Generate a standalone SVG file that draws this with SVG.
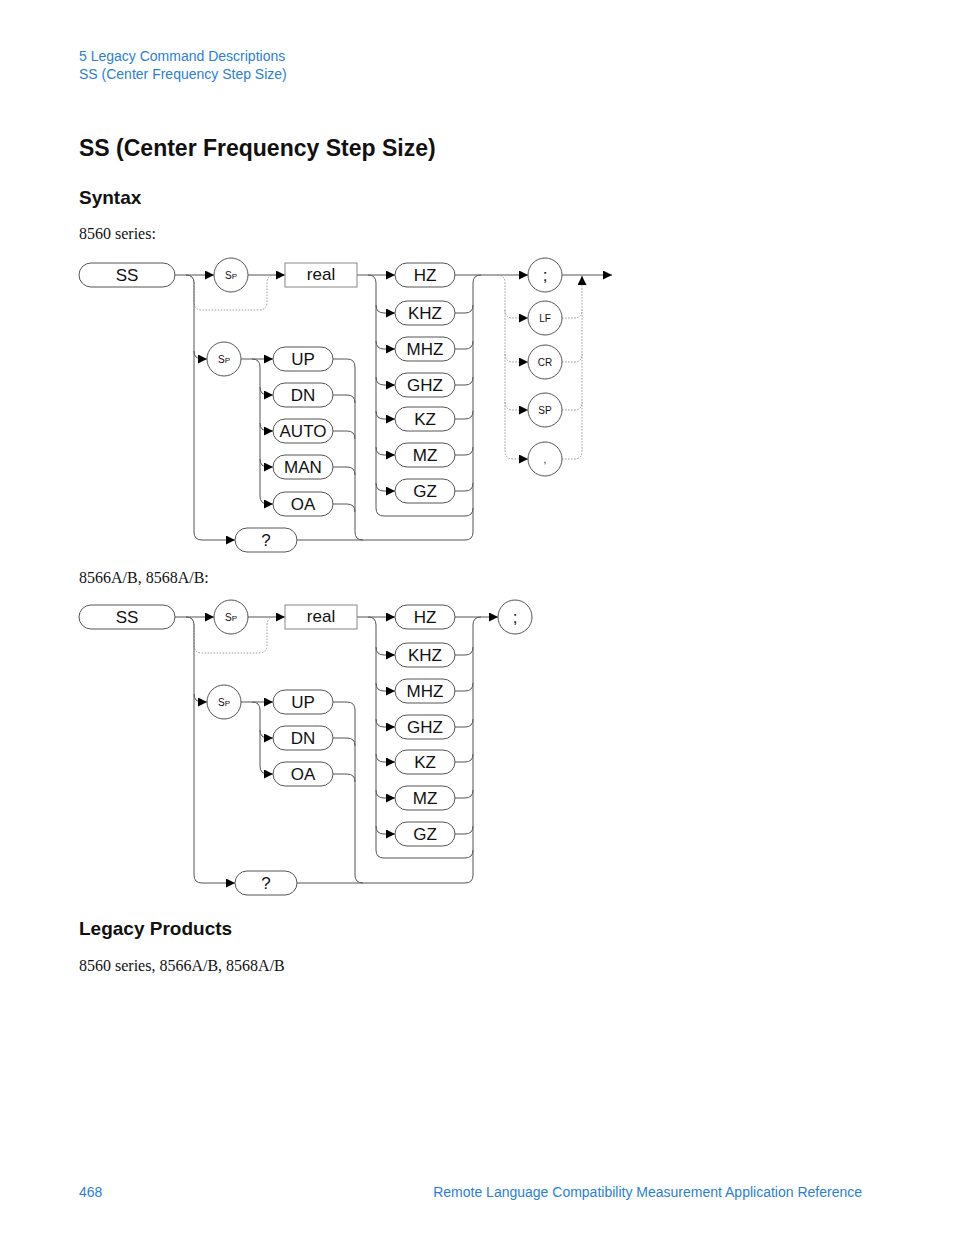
<svg xmlns="http://www.w3.org/2000/svg" width="954" height="1235" viewBox="0 0 954 1235">
<style>
.hd{font-family:"Liberation Sans Narrow","Liberation Sans",sans-serif;fill:#2a7fd4;font-size:14px}
.t{font-family:"Liberation Sans Narrow","Liberation Sans",sans-serif;font-weight:bold;fill:#111}
.b{font-family:"Liberation Serif",serif;font-size:16px;fill:#111}
.n{fill:#fff;stroke:#555;stroke-width:1}
.l{font-family:"Liberation Sans",Arial,sans-serif;font-size:17px;fill:#111;text-anchor:middle}
.s{font-family:"Liberation Sans",Arial,sans-serif;font-size:10px;fill:#111;text-anchor:middle}
.c path{fill:none;stroke:#555;stroke-width:1}
.c path.d{stroke:#999;stroke-dasharray:1.5 1.5}
</style>
<defs><marker id="a" viewBox="0 0 10 10" refX="10" refY="5" markerWidth="9" markerHeight="9" markerUnits="userSpaceOnUse" orient="auto"><path d="M0,0 L10,5 L0,10z" fill="#000"/></marker></defs>
<rect width="954" height="1235" fill="#fff"/>
<text class="hd" x="79" y="61">5  Legacy Command Descriptions</text>
<text class="hd" x="79" y="79">SS (Center Frequency Step Size)</text>
<text class="t" x="79" y="156" font-size="23">SS (Center Frequency Step Size)</text>
<text class="t" x="79" y="204" font-size="19">Syntax</text>
<text class="b" x="79" y="239">8560 series:</text>
<text class="b" x="79" y="583">8566A/B, 8568A/B:</text>
<text class="t" x="79" y="935" font-size="19">Legacy Products</text>
<text class="b" x="79" y="971">8560 series, 8566A/B, 8568A/B</text>
<text class="hd" x="79" y="1197">468</text>
<text class="hd" x="862" y="1197" text-anchor="end">Remote Language Compatibility Measurement Application Reference</text>

<g class="c" id="connectors">
<!-- diagram 1 -->
<path d="M175,275 H214" marker-end="url(#a)"/>
<path d="M248,275 H285" marker-end="url(#a)"/>
<path class="d" d="M186,275 Q194,275 194,283 V302 Q194,310 202,310 H259 Q267,310 267,302 V283 Q267,275 275,275"/>
<path d="M186,275 Q194,275 194,283 V532 Q194,540 202,540 H235" marker-end="url(#a)"/>
<path d="M194,351 Q194,359 202,359 H207" marker-end="url(#a)"/>
<path d="M241,359 H273" marker-end="url(#a)"/>
<path d="M252,359 Q260,359 260,367 V496 Q260,504 268,504 H273" marker-end="url(#a)"/>
<path d="M260,387 Q260,395 268,395 H273" marker-end="url(#a)"/>
<path d="M260,423 Q260,431 268,431 H273" marker-end="url(#a)"/>
<path d="M260,459 Q260,467 268,467 H273" marker-end="url(#a)"/>
<path d="M333,359 H347 Q355,359 355,367 V532 Q355,540 363,540 H465 Q473,540 473,532 V283 Q473,275 481,275 H528" marker-end="url(#a)"/>
<path d="M297,540 H363"/>
<path d="M333,395 H347 Q355,395 355,403"/>
<path d="M333,431 H347 Q355,431 355,439"/>
<path d="M333,467 H347 Q355,467 355,475"/>
<path d="M333,504 H347 Q355,504 355,512"/>
<path d="M357,275 H395" marker-end="url(#a)"/>
<path d="M368,275 Q376,275 376,283 V508 Q376,516 384,516 H465 Q473,516 473,508"/>
<path d="M376,305 Q376,313 384,313 H395" marker-end="url(#a)"/>
<path d="M376,341 Q376,349 384,349 H395" marker-end="url(#a)"/>
<path d="M376,377 Q376,385 384,385 H395" marker-end="url(#a)"/>
<path d="M376,411 Q376,419 384,419 H395" marker-end="url(#a)"/>
<path d="M376,447 Q376,455 384,455 H395" marker-end="url(#a)"/>
<path d="M376,483 Q376,491 384,491 H395" marker-end="url(#a)"/>
<path d="M455,275 H481"/>
<path d="M455,313 H465 Q473,313 473,305"/>
<path d="M455,349 H465 Q473,349 473,341"/>
<path d="M455,385 H465 Q473,385 473,377"/>
<path d="M455,419 H465 Q473,419 473,411"/>
<path d="M455,455 H465 Q473,455 473,447"/>
<path d="M455,491 H465 Q473,491 473,483"/>
<path class="d" d="M497,275 Q505,275 505,283 V451 Q505,459 513,459 H528" marker-end="url(#a)"/>
<path class="d" d="M505,310 Q505,318 513,318 H528" marker-end="url(#a)"/>
<path class="d" d="M505,354 Q505,362 513,362 H528" marker-end="url(#a)"/>
<path class="d" d="M505,402 Q505,410 513,410 H528" marker-end="url(#a)"/>
<path class="d" d="M562,459 H574 Q582,459 582,451 V277"/>
<path d="M582,285 V276" marker-end="url(#a)"/>
<path class="d" d="M562,318 H574 Q582,318 582,310"/>
<path class="d" d="M562,362 H574 Q582,362 582,354"/>
<path class="d" d="M562,410 H574 Q582,410 582,402"/>
<path d="M562,275 H612" marker-end="url(#a)"/>
<!-- diagram 2 -->
<path d="M175,617 H214" marker-end="url(#a)"/>
<path d="M248,617 H285" marker-end="url(#a)"/>
<path class="d" d="M186,617 Q194,617 194,625 V645 Q194,653 202,653 H259 Q267,653 267,645 V625 Q267,617 275,617"/>
<path d="M186,617 Q194,617 194,625 V875 Q194,883 202,883 H235" marker-end="url(#a)"/>
<path d="M194,694 Q194,702 202,702 H207" marker-end="url(#a)"/>
<path d="M241,702 H273" marker-end="url(#a)"/>
<path d="M252,702 Q260,702 260,710 V766 Q260,774 268,774 H273" marker-end="url(#a)"/>
<path d="M260,730 Q260,738 268,738 H273" marker-end="url(#a)"/>
<path d="M333,702 H347 Q355,702 355,710 V875 Q355,883 363,883 H465 Q473,883 473,875 V625 Q473,617 481,617 H498" marker-end="url(#a)"/>
<path d="M297,883 H363"/>
<path d="M333,738 H347 Q355,738 355,746"/>
<path d="M333,774 H347 Q355,774 355,782"/>
<path d="M357,617 H395" marker-end="url(#a)"/>
<path d="M368,617 Q376,617 376,625 V850 Q376,858 384,858 H465 Q473,858 473,850"/>
<path d="M376,647 Q376,655 384,655 H395" marker-end="url(#a)"/>
<path d="M376,683 Q376,691 384,691 H395" marker-end="url(#a)"/>
<path d="M376,719 Q376,727 384,727 H395" marker-end="url(#a)"/>
<path d="M376,754 Q376,762 384,762 H395" marker-end="url(#a)"/>
<path d="M376,790 Q376,798 384,798 H395" marker-end="url(#a)"/>
<path d="M376,826 Q376,834 384,834 H395" marker-end="url(#a)"/>
<path d="M455,617 H481"/>
<path d="M455,655 H465 Q473,655 473,647"/>
<path d="M455,691 H465 Q473,691 473,683"/>
<path d="M455,727 H465 Q473,727 473,719"/>
<path d="M455,762 H465 Q473,762 473,754"/>
<path d="M455,798 H465 Q473,798 473,790"/>
<path d="M455,834 H465 Q473,834 473,826"/>
</g>

<!-- diagram 1 nodes -->
<g id="ss1"><rect class="n" x="79" y="263" width="96" height="24" rx="12"/><text class="l" x="127" y="281">SS</text></g>
<g id="sp1"><circle class="n" cx="231" cy="275" r="17"/><text class="s" x="231" y="279" font-size="12">S<tspan font-size="8">P</tspan></text></g>
<g id="real1"><rect x="285" y="263" width="72" height="24" fill="#fff" stroke="#888"/><text class="l" x="321" y="280" font-size="13">real</text></g>
<g id="sp1b"><circle class="n" cx="224" cy="359" r="17"/><text class="s" x="224" y="363" font-size="12">S<tspan font-size="8">P</tspan></text></g>
<g id="up1"><rect class="n" x="273" y="347" width="60" height="24" rx="12"/><text class="l" x="303" y="365">UP</text></g>
<g id="dn1"><rect class="n" x="273" y="383" width="60" height="24" rx="12"/><text class="l" x="303" y="401">DN</text></g>
<g id="auto1"><rect class="n" x="273" y="419" width="60" height="24" rx="12"/><text class="l" x="303" y="437">AUTO</text></g>
<g id="man1"><rect class="n" x="273" y="455" width="60" height="24" rx="12"/><text class="l" x="303" y="473">MAN</text></g>
<g id="oa1"><rect class="n" x="273" y="492" width="60" height="24" rx="12"/><text class="l" x="303" y="510">OA</text></g>
<g id="q1"><rect class="n" x="235" y="528" width="62" height="24" rx="12"/><text class="l" x="266" y="546">?</text></g>
<g id="hz1"><rect class="n" x="395" y="263" width="60" height="24" rx="12"/><text class="l" x="425" y="281">HZ</text></g>
<g id="khz1"><rect class="n" x="395" y="301" width="60" height="24" rx="12"/><text class="l" x="425" y="319">KHZ</text></g>
<g id="mhz1"><rect class="n" x="395" y="337" width="60" height="24" rx="12"/><text class="l" x="425" y="355">MHZ</text></g>
<g id="ghz1"><rect class="n" x="395" y="373" width="60" height="24" rx="12"/><text class="l" x="425" y="391">GHZ</text></g>
<g id="kz1"><rect class="n" x="395" y="407" width="60" height="24" rx="12"/><text class="l" x="425" y="425">KZ</text></g>
<g id="mz1"><rect class="n" x="395" y="443" width="60" height="24" rx="12"/><text class="l" x="425" y="461">MZ</text></g>
<g id="gz1"><rect class="n" x="395" y="479" width="60" height="24" rx="12"/><text class="l" x="425" y="497">GZ</text></g>
<g id="semi1"><circle class="n" cx="545" cy="275" r="17"/><text class="l" x="545" y="281" font-size="15">;</text></g>
<g id="lf1"><circle class="n" cx="545" cy="318" r="17"/><text class="s" x="545" y="322">LF</text></g>
<g id="cr1"><circle class="n" cx="545" cy="362" r="17"/><text class="s" x="545" y="366">CR</text></g>
<g id="spc1"><circle class="n" cx="545" cy="410" r="17"/><text class="s" x="545" y="414">SP</text></g>
<g id="comma1"><circle class="n" cx="545" cy="459" r="17"/><text class="s" x="545" y="463">,</text></g>

<!-- diagram 2 nodes -->
<g id="ss2"><rect class="n" x="79" y="605" width="96" height="24" rx="12"/><text class="l" x="127" y="623">SS</text></g>
<g id="sp2"><circle class="n" cx="231" cy="617" r="17"/><text class="s" x="231" y="621" font-size="12">S<tspan font-size="8">P</tspan></text></g>
<g id="real2"><rect x="285" y="605" width="72" height="24" fill="#fff" stroke="#888"/><text class="l" x="321" y="622" font-size="13">real</text></g>
<g id="sp2b"><circle class="n" cx="224" cy="702" r="17"/><text class="s" x="224" y="706" font-size="12">S<tspan font-size="8">P</tspan></text></g>
<g id="up2"><rect class="n" x="273" y="690" width="60" height="24" rx="12"/><text class="l" x="303" y="708">UP</text></g>
<g id="dn2"><rect class="n" x="273" y="726" width="60" height="24" rx="12"/><text class="l" x="303" y="744">DN</text></g>
<g id="oa2"><rect class="n" x="273" y="762" width="60" height="24" rx="12"/><text class="l" x="303" y="780">OA</text></g>
<g id="q2"><rect class="n" x="235" y="871" width="62" height="24" rx="12"/><text class="l" x="266" y="889">?</text></g>
<g id="hz2"><rect class="n" x="395" y="605" width="60" height="24" rx="12"/><text class="l" x="425" y="623">HZ</text></g>
<g id="khz2"><rect class="n" x="395" y="643" width="60" height="24" rx="12"/><text class="l" x="425" y="661">KHZ</text></g>
<g id="mhz2"><rect class="n" x="395" y="679" width="60" height="24" rx="12"/><text class="l" x="425" y="697">MHZ</text></g>
<g id="ghz2"><rect class="n" x="395" y="715" width="60" height="24" rx="12"/><text class="l" x="425" y="733">GHZ</text></g>
<g id="kz2"><rect class="n" x="395" y="750" width="60" height="24" rx="12"/><text class="l" x="425" y="768">KZ</text></g>
<g id="mz2"><rect class="n" x="395" y="786" width="60" height="24" rx="12"/><text class="l" x="425" y="804">MZ</text></g>
<g id="gz2"><rect class="n" x="395" y="822" width="60" height="24" rx="12"/><text class="l" x="425" y="840">GZ</text></g>
<g id="semi2"><circle class="n" cx="515" cy="617" r="17"/><text class="l" x="515" y="623" font-size="15">;</text></g>
</svg>
